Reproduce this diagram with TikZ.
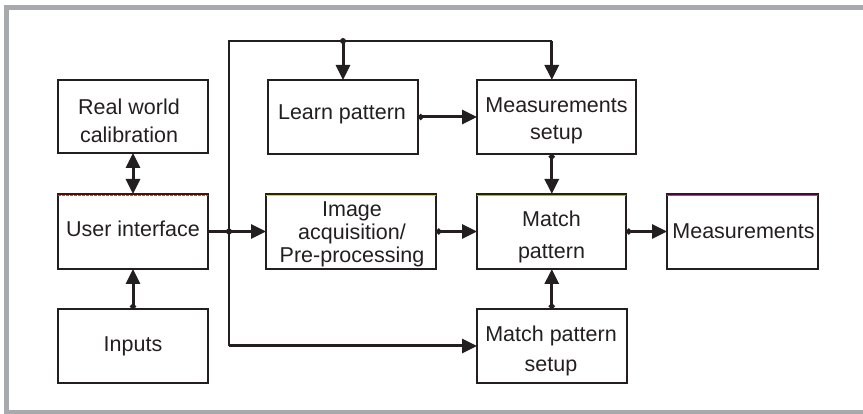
\documentclass[tikz,border=0pt]{standalone}
\usepackage{fontspec}
\setmainfont{Liberation Sans}
\usetikzlibrary{arrows.meta}
\definecolor{ink}{HTML}{231F20}
\definecolor{frame}{HTML}{A7A9AC}
\definecolor{redtop}{HTML}{E8401C}
\definecolor{yeltop}{HTML}{E6D800}
\definecolor{grntop}{HTML}{9CBF1E}
\definecolor{magtop}{HTML}{C0399A}
\tikzset{
  box/.style={draw=ink, line width=2.2pt, inner sep=0pt, outer sep=0pt},
  lbl/.style={font=\fontsize{21.5}{26}\selectfont, text=ink, anchor=base, inner sep=0pt},
  conn/.style={draw=ink, line width=3pt, -{Triangle[length=15pt,width=14pt]}},
  dconn/.style={draw=ink, line width=3pt, {Circle[length=5.5pt]}-{Triangle[length=15pt,width=14pt]}},
  trunk/.style={draw=ink, line width=2.5pt},
  jdot/.style={fill=ink, circle, inner sep=0pt, minimum size=6pt},
}
\begin{document}
\begin{tikzpicture}[x=1pt,y=-1pt]
\useasboundingbox (0,0) rectangle (863,414);
% frame
\draw[frame, line width=5pt] (863,8) -- (6.5,8) -- (6.5,412.5) -- (863,412.5);
% boxes
\node[box, minimum width=150pt, minimum height=73pt] (rwc) at (133,116.5) {};
\node[box, minimum width=150pt, minimum height=75pt] (ui) at (133,231.5) {};
\node[box, minimum width=150pt, minimum height=74pt] (inp) at (133,346.3) {};
\node[box, minimum width=150pt, minimum height=74pt] (lp) at (343,117) {};
\node[box, minimum width=159pt, minimum height=74pt] (ms) at (556.5,117) {};
\node[box, minimum width=170pt, minimum height=75pt] (ia) at (351,231.5) {};
\node[box, minimum width=149pt, minimum height=75pt] (mp) at (551.5,231.5) {};
\node[box, minimum width=150pt, minimum height=74pt] (mps) at (552,346) {};
\node[box, minimum width=151pt, minimum height=75pt] (meas) at (742.5,231.5) {};
% coloured top edges
\draw[redtop, line width=1.2pt, dash pattern=on 3pt off 1pt] ([yshift=-1.7pt]ui.north west) -- ([yshift=-1.7pt]ui.north east);
\draw[yeltop, line width=1.2pt] ([yshift=-1.7pt]ia.north west) -- ([yshift=-1.7pt]ia.north east);
\draw[grntop, line width=1.2pt] ([yshift=-1.7pt]mp.north west) -- ([yshift=-1.7pt]mp.north east);
\draw[magtop, line width=1.2pt] ([yshift=-1.7pt]meas.north west) -- ([yshift=-1.7pt]meas.north east);
% labels
\node[lbl] (t-rwc1) at (129,115) {Real world};
\node[lbl] (t-rwc2) at (129,142.7) {calibration};
\node[lbl] (t-ui) at (133,237) {User interface};
\node[lbl] (t-inp) at (133,351.5) {Inputs};
\node[lbl] (t-lp) at (342,120) {Learn pattern};
\node[lbl] (t-ms1) at (556.5,112.3) {Measurements};
\node[lbl] (t-ms2) at (556.5,140) {setup};
\node[lbl] (t-ia1) at (352,216.7) {Image};
\node[lbl] (t-ia2) at (352,240) {acquisition/};
\node[lbl] (t-ia3) at (352,262.5) {Pre-processing};
\node[lbl] (t-mp1) at (551.5,226.7) {Match};
\node[lbl] (t-mp2) at (551.5,258.3) {pattern};
\node[lbl] (t-mps1) at (551,341.7) {Match pattern};
\node[lbl] (t-mps2) at (551,371.7) {setup};
\node[lbl] (t-meas) at (743.5,238.3) {Measurements};
% trunk coordinates
\coordinate (j) at (229,231.5);
\coordinate (tl) at (229,41);
\coordinate (tr) at (551.8,41);
\coordinate (tj) at (343,41);
\coordinate (bl) at (229,346);
% connectors
\draw[draw=ink, line width=3pt, {Triangle[length=15pt,width=14pt]}-{Triangle[length=15pt,width=14pt]}] (rwc.south) -- (ui.north);
\draw[dconn] (inp.north) -- (ui.south);
\draw[conn] (ui.east) -- (ia.west);
\draw[trunk] (bl) -- (tl) -- (tr);
\draw[conn] (tr) -- (tr |- ms.north);
\draw[conn] (tj) -- (lp.north);
\node[jdot] (d1) at (tj) {};
\node[jdot] (d2) at (j) {};
\draw[trunk] (j) -- (bl);
\draw[conn] (bl) -- (mps.west);
\draw[dconn] (lp.east) -- (ms.west);
\draw[dconn] (ia.east) -- (mp.west);
\draw[dconn] (ms.south -| tr) -- (mp.north -| tr);
\draw[dconn] (mps.north -| tr) -- (mp.south -| tr);
\draw[dconn] (mp.east) -- (meas.west);
\end{tikzpicture}
\end{document}
